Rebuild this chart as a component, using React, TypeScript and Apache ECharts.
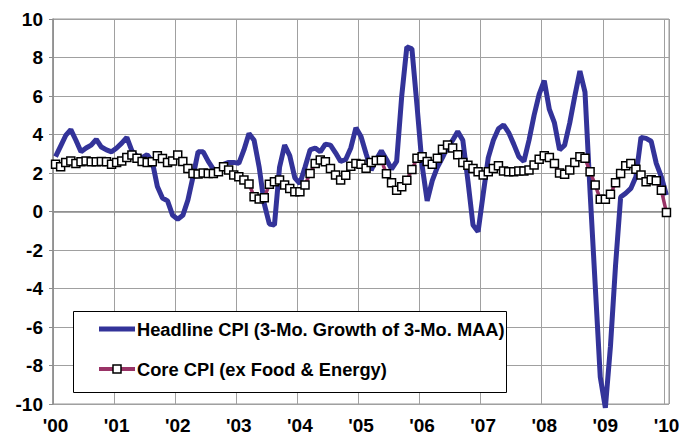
import React, { useEffect, useRef } from "react";
import * as echarts from "echarts";

const yearLabels = ["'00", "'01", "'02", "'03", "'04", "'05", "'06", "'07", "'08", "'09", "'10"];
const seriesNames = ["Headline CPI (3-Mo. Growth of 3-Mo. MAA)", "Core CPI (ex Food & Energy)"];

// Monthly categories Jan 2000 .. Jan 2010
const months: string[] = [];
for (let y = 2000; y <= 2010; y++) {
  for (let m = 1; m <= 12; m++) {
    if (y === 2010 && m > 1) break;
    months.push(`${y}-${m < 10 ? "0" + m : m}`);
  }
}

const headline = [
  2.85, 3.4, 3.95, 4.25, 3.7, 3.1, 3.3, 3.45, 3.75, 3.35, 3.2, 3.1,
  3.3, 3.55, 3.85, 3.15, 2.85, 2.8, 2.95, 2.6, 1.3, 0.7, 0.55, -0.2,
  -0.4, -0.2, 0.6, 1.8, 3.1, 3.1, 2.6, 2.2, 2.05, 2.45, 2.55, 2.55,
  2.5, 3.2, 4.05, 3.7, 2.3, 0.4, -0.65, -0.7, 2.3, 3.45, 2.9, 1.75,
  1.45, 2.3, 3.2, 3.3, 3.1, 3.5, 3.45, 3.05, 2.6, 2.7, 3.3, 4.35,
  3.9, 3.0, 2.15, 2.7, 3.15, 2.7, 2.2, 2.6, 6.0, 8.55, 8.45, 5.5,
  2.4, 0.55, 1.6, 2.3, 2.8, 3.35, 3.7, 4.15, 3.7, 1.6, -0.7, -1.05,
  0.9, 2.8, 3.7, 4.3, 4.5, 4.1, 3.5, 2.85, 2.6, 3.7, 5.0, 6.1,
  6.8, 5.3, 4.6, 3.2, 3.45, 4.6, 6.0, 7.3, 6.2, 1.0, -3.8, -8.6,
  -10.2, -7.0, -2.8, 0.75, 0.95, 1.2, 1.8, 3.85, 3.8, 3.65, 2.5, 1.8,
  0.85,
];

const core = [
  2.45, 2.33, 2.54, 2.62, 2.5, 2.59, 2.62, 2.59, 2.59, 2.6, 2.58, 2.45,
  2.55, 2.62, 2.8, 2.93, 2.76, 2.6, 2.55, 2.58, 2.9, 2.75, 2.55, 2.62,
  2.93, 2.6, 2.24, 1.98, 1.95, 2.0, 1.98, 1.98, 2.07, 2.33, 2.16, 1.9,
  1.8, 1.64, 1.43, 0.77, 0.65, 0.72, 1.41, 1.55, 1.64, 1.38, 1.2, 1.03,
  1.03, 1.38, 1.98, 2.5, 2.68, 2.59, 2.24, 1.9, 1.64, 1.88, 2.35, 2.5,
  2.45, 2.25, 2.55, 2.65, 2.66, 1.96, 1.5, 1.1, 1.28, 1.62, 2.18, 2.76,
  2.85, 2.6, 2.46, 2.76, 3.24, 3.45, 3.3, 2.95, 2.55, 2.4, 2.24, 2.07,
  1.9, 2.07, 2.24, 2.38, 2.1, 2.07, 2.07, 2.1, 2.1, 2.16, 2.42, 2.71,
  2.9, 2.8, 2.5, 2.0, 1.93, 2.16, 2.55, 2.85, 2.76, 2.07, 1.38, 0.63,
  0.63, 0.89, 1.5, 1.98, 2.38, 2.5, 2.19, 1.9, 1.55, 1.65, 1.6, 1.1,
  -0.05,
];

const FONT = "'Liberation Sans', Arial, sans-serif";
const BLUE = "#333399";
const MAROON = "#993366";

export default function App() {
  const ref = useRef<HTMLDivElement>(null);
  useEffect(() => {
    if (!ref.current) return;
    const chart = echarts.init(ref.current, undefined, { renderer: "svg" });
    chart.setOption({
      animation: false,
      backgroundColor: "#ffffff",
      grid: {
        left: 53,
        right: 16,
        top: 19,
        bottom: 32,
        show: true,
        borderColor: "#999999",
        borderWidth: 1,
        backgroundColor: "transparent",
      },
      xAxis: {
        type: "category",
        data: months,
        boundaryGap: true,
        axisLine: { show: true, lineStyle: { color: "#8c8c8c", width: 1.5 } },
        axisTick: {
          show: true,
          length: 4,
          interval: (i: number) => i % 12 === 0,
          lineStyle: { color: "#8c8c8c" },
        },
        splitLine: {
          show: true,
          interval: (i: number) => i % 12 === 0,
          lineStyle: { color: "#a0a0a0", width: 1 },
        },
        axisLabel: {
          interval: (i: number) => i % 12 === 0,
          formatter: (v: string) => yearLabels[parseInt(v.slice(0, 4), 10) - 2000],
          color: "#000",
          fontFamily: FONT,
          fontWeight: "bold",
          fontSize: 19,
          margin: 12,
        },
      },
      yAxis: {
        type: "value",
        min: -10,
        max: 10,
        interval: 2,
        axisLine: { show: true, lineStyle: { color: "#8c8c8c", width: 1.5 } },
        axisTick: { show: true, length: 4, lineStyle: { color: "#8c8c8c" } },
        splitLine: { show: true, lineStyle: { color: "#a0a0a0", width: 1 } },
        axisLabel: {
          color: "#000",
          fontFamily: FONT,
          fontWeight: "bold",
          fontSize: 19,
          margin: 10,
        },
      },
      graphic: [
        {
          type: "rect",
          z: 10,
          shape: { x: 73.5, y: 311.5, width: 433, height: 81 },
          style: { fill: "#ffffff", stroke: "#000000", lineWidth: 1 },
        },
        {
          type: "line",
          z: 11,
          shape: { x1: 99, y1: 329, x2: 135, y2: 329 },
          style: { stroke: BLUE, lineWidth: 5 },
        },
        {
          type: "text",
          z: 11,
          style: {
            text: seriesNames[0],
            x: 137,
            y: 329,
            fill: "#000",
            font: `bold 18.3px ${FONT}`,
            verticalAlign: "middle",
            textVerticalAlign: "middle",
          },
        },
        {
          type: "line",
          z: 11,
          shape: { x1: 99, y1: 369, x2: 135, y2: 369 },
          style: { stroke: MAROON, lineWidth: 4 },
        },
        {
          type: "rect",
          z: 12,
          shape: { x: 113, y: 365, width: 8, height: 8 },
          style: { fill: "#ffffff", stroke: "#000000", lineWidth: 1.5 },
        },
        {
          type: "text",
          z: 11,
          style: {
            text: seriesNames[1],
            x: 137,
            y: 369,
            fill: "#000",
            font: `bold 18.3px ${FONT}`,
            verticalAlign: "middle",
            textVerticalAlign: "middle",
          },
        },
      ],
      series: [
        {
          name: seriesNames[0],
          type: "line",
          data: headline,
          symbol: "none",
          clip: false,
          lineStyle: { color: BLUE, width: 5 },
          itemStyle: { color: BLUE },
          z: 2,
        },
        {
          name: seriesNames[1],
          type: "line",
          data: core,
          symbol: "rect",
          symbolSize: 8,
          showSymbol: true,
          showAllSymbol: true,
          clip: false,
          lineStyle: { color: MAROON, width: 3.5 },
          itemStyle: { color: "#ffffff", borderColor: "#000000", borderWidth: 1.5 },
          z: 3,
        },
      ],
    });
    return () => chart.dispose();
  }, []);
  return (
    <div
      ref={ref}
      style={{ position: "fixed", left: 0, top: 0, width: 685, height: 436 }}
    />
  );
}
